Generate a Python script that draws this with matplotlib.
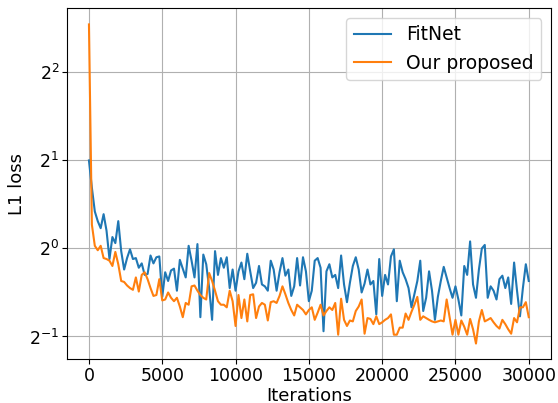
import matplotlib
matplotlib.use("Agg")
import matplotlib.pyplot as plt
import numpy as np

# loss logged every 200 iterations
iterations = list(range(0, 30001, 200))

fitnet = [
    2.000, 1.613, 1.338, 1.240, 1.173, 1.310, 1.149, 0.920, 1.094, 1.043,
    1.240, 0.979, 0.847, 0.927, 0.993, 0.920, 0.927, 0.859, 0.889, 0.812,
    0.818, 0.946, 0.889, 0.933, 0.939, 0.683, 0.829, 0.774, 0.841, 0.853,
    0.717, 0.914, 0.853, 0.796, 1.021, 0.908, 0.796, 1.035, 0.582, 0.953,
    0.883, 0.732, 0.570, 0.979, 0.812, 0.927, 0.859, 0.933, 0.732, 0.847,
    0.717, 0.835, 0.895, 0.785, 0.959, 0.835, 0.732, 0.763, 0.871, 0.753,
    0.742, 0.717, 0.908, 0.847, 0.717, 0.829, 0.927, 0.807, 0.847, 0.688,
    0.742, 0.927, 0.747, 0.933, 0.835, 0.660, 0.717, 0.908, 0.927, 0.859,
    0.521, 0.835, 0.883, 0.796, 0.812, 0.732, 0.946, 0.753, 0.655, 0.763,
    0.871, 0.933, 0.847, 0.707, 0.758, 0.847, 0.753, 0.774, 0.595, 0.920,
    0.688, 0.812, 0.753, 0.939, 0.993, 0.660, 0.908, 0.829, 0.785, 0.732,
    0.629, 0.697, 0.774, 0.908, 0.611, 0.678, 0.835, 0.717, 0.570, 0.683,
    0.774, 0.865, 0.796, 0.732, 0.678, 0.742, 0.669, 0.590, 0.871, 0.812,
    1.057, 0.753, 0.678, 0.847, 1.000, 1.028, 0.678, 0.742, 0.717, 0.669,
    0.785, 0.807, 0.732, 0.796, 0.646, 0.895, 0.717, 0.586, 0.732, 0.883,
    0.774,
]

proposed = [
    5.836, 1.206, 1.021, 0.986, 1.021, 0.927, 0.920, 0.908, 0.871, 0.973,
    0.883, 0.774, 0.768, 0.747, 0.732, 0.722, 0.796, 0.712, 0.812, 0.829,
    0.785, 0.732, 0.688, 0.693, 0.785, 0.664, 0.669, 0.707, 0.678, 0.660,
    0.678, 0.633, 0.582, 0.651, 0.642, 0.742, 0.747, 0.717, 0.693, 0.678,
    0.669, 0.824, 0.774, 0.717, 0.660, 0.642, 0.642, 0.629, 0.717, 0.660,
    0.543, 0.693, 0.578, 0.669, 0.563, 0.693, 0.697, 0.578, 0.633, 0.651,
    0.642, 0.567, 0.655, 0.660, 0.651, 0.688, 0.742, 0.697, 0.651, 0.616,
    0.590, 0.642, 0.629, 0.616, 0.595, 0.616, 0.629, 0.570, 0.603, 0.642,
    0.590, 0.611, 0.629, 0.616, 0.651, 0.507, 0.673, 0.570, 0.543, 0.567,
    0.563, 0.611, 0.633, 0.669, 0.511, 0.578, 0.574, 0.551, 0.586, 0.551,
    0.559, 0.570, 0.578, 0.595, 0.507, 0.507, 0.536, 0.536, 0.599, 0.570,
    0.607, 0.642, 0.683, 0.570, 0.586, 0.578, 0.570, 0.563, 0.559, 0.563,
    0.567, 0.563, 0.669, 0.582, 0.507, 0.570, 0.507, 0.567, 0.540, 0.507,
    0.574, 0.529, 0.473, 0.563, 0.616, 0.563, 0.570, 0.578, 0.559, 0.543,
    0.532, 0.570, 0.551, 0.529, 0.511, 0.578, 0.559, 0.629, 0.629, 0.655,
    0.582,
]

fig = plt.figure(figsize=(5.58, 4.03), dpi=100)
ax = fig.add_axes([0.120, 0.108, 0.867, 0.871])

ax.plot(iterations, fitnet, label="FitNet")
ax.plot(iterations, proposed, label="Our proposed")
ax.set_yscale("log", base=2)
ax.grid(True)

ax.set_xlabel("Iterations", fontsize=13, labelpad=1)
ax.set_ylabel("L1 loss", fontsize=13, labelpad=2)
ax.tick_params(labelsize=12.5, pad=2)
ax.legend(loc="upper right", fontsize=13.5)

fig.savefig("out.png", dpi=100)
